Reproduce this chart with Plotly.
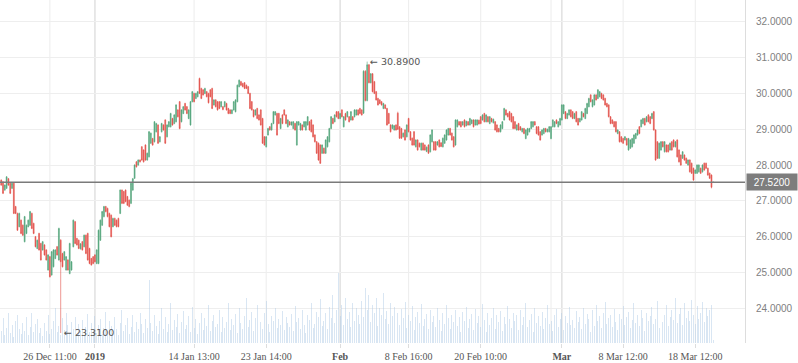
import plotly.graph_objects as go

opens = [
27.58, 27.53, 27.30, 27.35, 27.62, 27.49, 27.35, 27.49, 26.84,
26.65, 26.28, 26.46, 26.32, 25.86, 26.09, 26.28, 26.32, 26.65,
26.37, 26.00, 25.67, 26.09, 25.81, 25.63, 25.77, 25.63, 25.07,
25.44, 24.93, 25.16, 25.39, 25.72, 25.35, 25.90, 25.53, 25.35, 25.07,
25.35, 24.97, 25.07, 25.72, 26.42, 25.95, 25.90, 25.66, 25.86, 25.72, 26.04,
26.09, 25.67, 25.39, 25.44, 25.49, 25.25, 25.25, 25.90, 26.32, 26.56,
26.84, 26.79, 26.65, 26.60, 26.28, 26.51, 26.46, 26.51, 26.65, 27.30,
27.26, 27.30, 27.12, 27.02, 26.93, 27.30, 27.63, 28.09, 28.00, 28.14,
28.51, 28.42, 28.56, 28.14, 28.23, 28.61, 28.74, 28.65, 28.93, 29.12,
28.65, 28.93, 29.12, 29.26, 28.79, 29.07, 29.07, 29.30, 29.16,
29.21, 29.54, 29.77, 29.21, 29.44, 29.72, 29.63, 29.30, 29.12, 29.77,
30.00, 29.86, 29.91, 30.42, 30.14, 30.10, 30.00, 30.05, 30.00,
30.10, 30.14, 29.68, 29.82, 29.77, 29.77, 29.63, 29.63, 29.63, 29.72,
29.58, 29.54, 29.44, 29.54, 29.49, 29.77, 30.19, 30.33, 30.28, 30.30,
30.23, 30.19, 30.00, 29.77, 29.54, 29.40, 29.58, 29.40, 29.54, 29.30,
28.79, 28.51, 28.84, 29.07, 28.98, 29.16, 29.40, 29.44, 29.44, 29.02,
29.40, 29.54, 29.40, 29.07, 29.21, 29.12, 29.02, 29.16, 28.56, 29.12, 28.98,
29.12, 29.07, 28.98, 29.12, 29.21, 29.26, 29.12, 28.84, 28.65, 28.61,
28.56, 28.33, 28.47, 28.33, 28.51, 28.65, 29.02, 29.30, 29.21, 29.49,
29.49, 29.30, 29.54, 29.07, 29.44, 29.35, 29.35, 29.26, 29.35, 29.35,
29.40, 29.54, 29.58, 29.54, 29.45, 30.62, 29.80, 30.80, 30.30, 30.55,
30.33, 30.05, 29.86, 29.82, 29.77, 29.58, 29.68, 29.58, 29.44, 29.12,
29.02, 28.98, 29.12, 29.45, 29.07, 29.02, 28.79, 28.98, 28.79, 29.30,
28.93, 28.75, 28.93, 28.51, 28.70, 28.61, 28.42, 28.61, 28.56, 28.38,
28.56, 28.37, 28.65, 28.65, 28.65, 28.56, 28.70, 28.62, 28.51, 28.61,
28.70, 28.84, 29.02, 28.89, 28.79, 28.56, 29.07, 29.21, 29.21, 29.12,
29.26, 29.10, 29.21, 29.12, 29.16, 29.26, 29.12, 29.12, 29.25, 29.35,
29.26, 29.44, 29.21, 29.35, 29.16, 29.30, 29.18, 29.21, 29.12, 29.02,
28.93, 29.02, 29.26, 29.54, 29.44, 29.49, 29.44, 29.35, 29.21, 28.98,
29.16, 29.07, 28.93, 29.02, 28.74, 28.84, 28.93, 29.02, 29.07, 29.21,
29.07, 29.07, 28.93, 28.84, 28.88, 29.02, 28.93, 28.93, 28.74, 29.07, 29.07,
29.26, 29.07, 29.12, 29.26, 29.44, 29.49, 29.30, 29.40, 29.54, 29.49,
29.30, 29.49, 29.30, 29.21, 29.26, 29.44, 29.30, 29.44, 29.63, 29.96,
29.63, 29.68, 29.96, 29.86, 29.91, 30.00, 29.96, 29.86, 29.72, 29.68,
29.35, 29.26, 29.21, 29.21, 28.88, 28.93, 28.79, 28.74, 28.70, 28.74,
28.42, 28.47, 28.51, 28.61, 28.74, 28.84, 29.07, 29.07, 29.16, 29.30,
29.21, 29.40, 29.35, 29.30, 29.49, 28.98, 28.65, 28.19, 28.42, 28.65,
28.37, 28.56, 28.56, 28.42, 28.65, 28.70, 28.51, 28.70, 28.42, 28.28,
28.19, 28.28, 28.19, 28.00, 28.14, 28.05, 27.91, 27.77, 27.77, 27.81,
27.91, 27.81, 28.05, 28.05, 27.91, 27.77, 27.72, 27.52]

closes = [
27.44, 27.21, 27.44, 27.67, 27.44, 27.21, 27.49, 26.65, 26.65,
26.18, 26.65, 26.09, 26.04, 26.56, 26.32, 26.46, 26.70, 26.23,
26.09, 25.72, 25.90, 25.63, 25.35, 25.86, 25.49, 25.35, 25.49,
24.88, 25.58, 25.63, 25.63, 25.49, 26.23, 25.30, 25.16, 25.58, 25.44,
25.07, 25.81, 25.30, 26.46, 25.81, 25.77, 25.67, 25.80, 25.63, 26.04, 25.53,
25.35, 25.25, 25.21, 25.25, 25.30, 25.63, 26.18, 26.46, 26.70, 26.84,
26.70, 26.56, 26.28, 26.00, 26.51, 26.32, 26.28, 26.28, 27.30, 26.93,
26.93, 26.98, 26.88, 26.84, 27.49, 27.62, 28.00, 27.95, 28.14, 28.09,
28.14, 28.09, 28.14, 28.33, 28.93, 28.89, 28.56, 29.21, 29.16, 28.61,
28.79, 29.16, 28.98, 28.61, 29.12, 29.21, 29.44, 29.12, 29.40,
29.68, 29.35, 29.02, 29.54, 29.63, 29.54, 29.44, 29.54, 29.77, 30.05,
29.77, 30.00, 30.05, 30.00, 29.86, 29.96, 30.14, 29.91, 29.74,
29.91, 29.58, 29.82, 29.63, 29.54, 29.58, 29.77, 29.55, 29.77, 29.54,
29.44, 29.44, 29.54, 29.77, 29.82, 30.23, 30.37, 30.23, 30.19, 30.14,
30.14, 30.00, 29.58, 29.54, 29.35, 29.54, 29.30, 29.26, 29.12, 28.61,
28.56, 28.79, 29.02, 28.98, 29.16, 29.49, 29.49, 28.84, 29.16, 29.30,
29.16, 29.40, 29.16, 29.26, 29.12, 29.20, 29.21, 28.98, 29.21, 29.21, 29.16,
28.98, 29.21, 29.21, 29.35, 28.98, 28.93, 28.79, 28.65, 28.33, 28.14,
28.05, 28.56, 28.33, 28.70, 28.79, 29.02, 29.35, 29.16, 29.40, 29.35,
29.30, 29.44, 29.35, 29.35, 29.26, 29.49, 29.21, 29.49, 29.26, 29.54,
29.54, 29.40, 29.44, 29.40, 30.62, 29.80, 30.80, 30.30, 30.55, 30.05,
30.00, 29.82, 29.68, 29.72, 29.68, 29.72, 29.58, 29.12, 29.16, 28.93,
29.12, 29.10, 28.98, 29.00, 28.75, 28.75, 28.89, 28.70, 29.12, 28.93,
28.70, 28.56, 28.56, 28.70, 28.42, 28.51, 28.61, 28.42, 28.42, 28.50,
28.33, 28.84, 28.98, 28.42, 28.42, 28.65, 28.51, 28.52, 28.75, 28.84,
28.98, 29.02, 28.84, 28.70, 28.51, 29.26, 29.26, 29.12, 29.07, 29.21,
29.07, 29.22, 29.12, 29.30, 29.26, 29.07, 29.26, 29.26, 29.15, 29.16,
29.40, 29.21, 29.40, 29.21, 29.35, 29.21, 29.28, 28.98, 28.93, 28.93,
29.12, 29.21, 29.58, 29.40, 29.35, 29.26, 29.21, 29.02, 29.02, 29.12,
28.98, 28.98, 29.02, 28.88, 28.98, 29.02, 29.02, 29.21, 29.21, 29.12,
28.88, 28.84, 28.70, 28.98, 29.02, 28.93, 29.00, 29.07, 29.07, 29.26, 29.21,
29.16, 29.21, 29.30, 29.68, 29.68, 29.30, 29.44, 29.54, 29.35, 29.30,
29.44, 29.21, 29.12, 29.30, 29.49, 29.35, 29.58, 29.72, 29.86, 29.77,
29.82, 29.96, 29.82, 30.10, 30.05, 29.86, 29.82, 29.68, 29.63, 29.35,
29.16, 29.16, 29.07, 28.93, 28.98, 28.65, 28.65, 28.61, 28.79, 28.56,
28.74, 28.70, 28.74, 28.84, 28.88, 28.98, 28.88, 29.26, 29.30, 29.12,
29.35, 29.21, 29.16, 29.44, 28.98, 28.14, 28.19, 28.61, 28.65, 28.51,
28.65, 28.37, 28.37, 28.61, 28.42, 28.51, 28.65, 28.23, 28.09, 28.00,
28.37, 28.14, 28.05, 28.14, 27.81, 27.77, 27.58, 27.86, 28.00, 28.00,
27.77, 28.00, 27.86, 27.91, 27.72, 27.63, 27.38, 27.52]

highs = [
27.60, 27.55, 27.46, 27.69, 27.64, 27.51, 27.51, 27.51, 26.86,
26.67, 26.67, 26.48, 26.34, 26.58, 26.34, 26.48, 26.72, 26.67,
26.39, 26.02, 25.92, 26.11, 25.83, 25.88, 25.79, 25.65, 25.51,
25.46, 25.60, 25.65, 25.65, 25.74, 26.25, 25.93, 25.55, 25.60, 25.46,
25.37, 25.83, 25.32, 26.48, 26.44, 25.97, 25.92, 25.82, 25.88, 26.06, 26.06,
26.11, 25.69, 25.41, 25.46, 25.51, 25.65, 26.20, 26.48, 26.72, 26.86,
26.86, 26.81, 26.67, 26.62, 26.53, 26.53, 26.48, 26.53, 27.32, 27.32,
27.28, 27.32, 27.14, 27.04, 27.51, 27.64, 28.02, 28.11, 28.16, 28.16,
28.53, 28.44, 28.58, 28.35, 28.95, 28.91, 28.76, 29.23, 29.18, 29.14,
28.81, 29.18, 29.14, 29.28, 29.14, 29.23, 29.46, 29.32, 29.42,
29.70, 29.56, 29.79, 29.56, 29.65, 29.74, 29.65, 29.56, 29.79, 30.07,
30.02, 30.02, 30.07, 30.44, 30.16, 30.12, 30.16, 30.07, 30.02,
30.12, 30.16, 29.84, 29.84, 29.79, 29.79, 29.79, 29.65, 29.79, 29.74,
29.60, 29.56, 29.56, 29.79, 29.84, 30.25, 30.39, 30.35, 30.30, 30.32,
30.25, 30.21, 30.02, 29.79, 29.56, 29.56, 29.60, 29.42, 29.56, 29.32,
28.81, 28.81, 29.04, 29.09, 29.18, 29.51, 29.51, 29.46, 29.46, 29.32,
29.42, 29.56, 29.42, 29.28, 29.23, 29.22, 29.23, 29.18, 29.23, 29.23, 29.18,
29.14, 29.23, 29.23, 29.37, 29.23, 29.28, 29.14, 28.86, 28.67, 28.63,
28.58, 28.58, 28.49, 28.72, 28.81, 29.04, 29.37, 29.32, 29.42, 29.51,
29.51, 29.46, 29.56, 29.37, 29.46, 29.51, 29.37, 29.51, 29.37, 29.56,
29.56, 29.56, 29.60, 29.56, 30.65, 30.65, 30.89, 30.82, 30.57, 30.57,
30.35, 30.07, 29.88, 29.84, 29.79, 29.74, 29.70, 29.60, 29.46, 29.14,
29.14, 29.12, 29.14, 29.49, 29.09, 29.04, 28.91, 29.00, 29.14, 29.32,
28.95, 28.77, 28.95, 28.72, 28.72, 28.63, 28.63, 28.63, 28.58, 28.52,
28.58, 28.86, 29.00, 28.67, 28.67, 28.67, 28.72, 28.64, 28.77, 28.86,
29.00, 29.04, 29.04, 28.91, 28.81, 29.28, 29.28, 29.23, 29.23, 29.23,
29.28, 29.24, 29.23, 29.32, 29.28, 29.28, 29.28, 29.28, 29.27, 29.37,
29.42, 29.46, 29.42, 29.37, 29.37, 29.32, 29.30, 29.23, 29.14, 29.04,
29.14, 29.23, 29.60, 29.56, 29.46, 29.51, 29.46, 29.37, 29.23, 29.14,
29.18, 29.09, 29.04, 29.04, 29.00, 29.04, 29.04, 29.23, 29.23, 29.23,
29.09, 29.09, 28.95, 29.00, 29.04, 29.04, 29.02, 29.09, 29.09, 29.28, 29.23,
29.28, 29.23, 29.32, 29.70, 29.70, 29.51, 29.46, 29.56, 29.56, 29.51,
29.46, 29.51, 29.32, 29.32, 29.51, 29.46, 29.60, 29.74, 29.88, 29.98,
29.84, 29.98, 29.98, 30.12, 30.07, 30.02, 29.98, 29.88, 29.74, 29.70,
29.37, 29.28, 29.23, 29.23, 29.00, 28.95, 28.81, 28.76, 28.81, 28.76,
28.76, 28.72, 28.76, 28.86, 28.90, 29.00, 29.09, 29.28, 29.32, 29.32,
29.37, 29.42, 29.37, 29.46, 29.51, 29.00, 28.67, 28.63, 28.67, 28.67,
28.67, 28.58, 28.58, 28.63, 28.67, 28.72, 28.67, 28.72, 28.44, 28.30,
28.39, 28.30, 28.21, 28.16, 28.16, 28.07, 27.93, 27.88, 28.02, 28.02,
27.93, 28.02, 28.07, 28.07, 27.93, 27.79, 27.74, 27.53]

lows = [
27.42, 27.19, 27.28, 27.33, 27.42, 27.19, 27.33, 26.63, 26.63,
26.16, 26.26, 26.07, 26.02, 25.84, 26.07, 26.26, 26.30, 26.21,
26.07, 25.70, 25.65, 25.61, 25.33, 25.61, 25.47, 25.33, 25.05,
24.86, 24.91, 25.14, 25.37, 25.47, 25.33, 23.31, 25.14, 25.33, 25.05,
25.05, 24.95, 25.05, 25.70, 25.79, 25.75, 25.65, 25.64, 25.61, 25.70, 25.51,
25.33, 25.23, 25.19, 25.23, 25.28, 25.23, 25.23, 25.88, 26.30, 26.54,
26.68, 26.54, 26.26, 25.98, 26.26, 26.30, 26.26, 26.26, 26.63, 26.91,
26.91, 26.96, 26.86, 26.82, 26.91, 27.28, 27.61, 27.93, 27.98, 28.07,
28.12, 28.07, 28.12, 28.12, 28.21, 28.59, 28.54, 28.63, 28.91, 28.59,
28.63, 28.91, 28.96, 28.59, 28.77, 29.05, 29.05, 29.10, 29.14,
29.19, 29.33, 29.00, 29.19, 29.42, 29.52, 29.42, 29.28, 29.10, 29.75,
29.75, 29.84, 29.89, 29.98, 29.84, 29.94, 29.98, 29.89, 29.72,
29.89, 29.56, 29.66, 29.61, 29.52, 29.56, 29.61, 29.53, 29.61, 29.52,
29.42, 29.42, 29.42, 29.52, 29.47, 29.75, 30.17, 30.21, 30.17, 30.12,
30.12, 29.98, 29.56, 29.52, 29.33, 29.38, 29.28, 29.24, 29.10, 28.59,
28.54, 28.49, 28.82, 28.96, 28.96, 29.14, 29.38, 28.82, 29.14, 29.00,
29.14, 29.38, 29.14, 29.05, 29.10, 29.10, 29.00, 28.96, 28.54, 29.10, 28.96,
28.96, 29.05, 28.96, 29.10, 28.96, 28.91, 28.77, 28.63, 28.31, 28.12,
28.03, 28.31, 28.31, 28.31, 28.49, 28.63, 29.00, 29.14, 29.19, 29.33,
29.28, 29.28, 29.33, 29.05, 29.24, 29.33, 29.19, 29.24, 29.24, 29.33,
29.38, 29.38, 29.42, 29.38, 29.43, 29.78, 29.78, 30.28, 30.28, 30.03,
29.98, 29.80, 29.66, 29.70, 29.66, 29.56, 29.56, 29.10, 29.14, 28.91,
29.00, 28.96, 28.96, 28.98, 28.73, 28.73, 28.77, 28.68, 28.77, 28.91,
28.68, 28.54, 28.54, 28.49, 28.40, 28.49, 28.40, 28.40, 28.40, 28.36,
28.31, 28.35, 28.63, 28.40, 28.40, 28.54, 28.49, 28.50, 28.49, 28.59,
28.68, 28.82, 28.82, 28.68, 28.49, 28.54, 29.05, 29.10, 29.05, 29.10,
29.05, 29.08, 29.10, 29.10, 29.14, 29.05, 29.10, 29.10, 29.13, 29.14,
29.24, 29.19, 29.19, 29.19, 29.14, 29.19, 29.16, 28.96, 28.91, 28.91,
28.91, 29.00, 29.24, 29.38, 29.33, 29.24, 29.19, 29.00, 29.00, 28.96,
28.96, 28.96, 28.91, 28.86, 28.72, 28.82, 28.91, 29.00, 29.05, 29.10,
28.86, 28.82, 28.68, 28.82, 28.86, 28.91, 28.91, 28.91, 28.72, 29.05, 29.05,
29.14, 29.05, 29.10, 29.24, 29.42, 29.28, 29.28, 29.38, 29.33, 29.28,
29.28, 29.19, 29.10, 29.19, 29.24, 29.33, 29.28, 29.42, 29.61, 29.75,
29.61, 29.66, 29.80, 29.84, 29.89, 29.84, 29.80, 29.66, 29.61, 29.33,
29.14, 29.14, 29.05, 28.91, 28.86, 28.63, 28.63, 28.59, 28.68, 28.54,
28.40, 28.45, 28.49, 28.59, 28.72, 28.82, 28.86, 29.05, 29.14, 29.10,
29.19, 29.19, 29.14, 29.28, 28.96, 28.12, 28.17, 28.17, 28.40, 28.49,
28.35, 28.35, 28.35, 28.40, 28.40, 28.49, 28.49, 28.21, 28.07, 27.98,
28.17, 28.12, 28.03, 27.98, 27.79, 27.75, 27.56, 27.75, 27.75, 27.79,
27.75, 27.79, 27.84, 27.89, 27.70, 27.61, 27.35, 27.51]

volumes = [
12, 25, 8, 15, 30, 10, 18, 6, 22, 28, 14, 9, 20, 12, 26, 8, 16, 30, 11, 19,
24, 10, 15, 7, 20, 12, 28, 9, 14, 22, 35, 11, 17, 8, 25, 13, 30, 18, 10, 21,
14, 26, 9, 19, 12, 23, 8, 16, 29, 11, 20, 13, 27, 10, 18, 24, 9, 15, 31, 12,
22, 17, 10, 26, 14, 8, 20, 33, 12, 18, 25, 9, 16, 28, 11, 21, 14, 30, 19, 10,
24, 15, 63, 20, 12, 28, 17, 9, 22, 35, 14, 26, 11, 19, 40, 13, 23, 16, 29, 10,
21, 32, 14, 18, 27, 11, 36, 15, 24, 9, 20, 30, 13, 25, 17, 38, 12, 22, 28, 16,
19, 33, 11, 26, 15, 21, 40, 13, 24, 18, 29, 10, 35, 20, 14, 27, 45, 16, 23, 31,
12, 25, 38, 17, 21, 14, 30, 42, 19, 11, 27, 22, 35, 15, 24, 18, 32, 13, 26, 20,
16, 29, 12, 37, 21, 25, 14, 33, 18, 10, 28, 23, 40, 15, 19, 31, 26, 44, 17, 22,
30, 14, 36, 25, 48, 20, 33, 70, 27, 38, 18, 45, 24, 31, 16, 40, 22, 35, 28, 19,
42, 26, 55, 33, 48, 21, 38, 30, 45, 17, 35, 28, 50, 24, 32, 19, 40, 27, 36, 22,
30, 18, 34, 25, 41, 15, 28, 22, 37, 13, 26, 31, 20, 39, 17, 24, 29, 14, 33, 21,
27, 16, 35, 23, 12, 30, 19, 38, 25, 14, 28, 21, 33, 17, 26, 11, 31, 22, 36, 15,
24, 29, 13, 34, 20, 27, 16, 39, 23, 11, 30, 18, 25, 35, 14, 28, 21, 32, 12, 26,
19, 37, 24, 15, 30, 22, 28, 13, 33, 18, 26, 40, 16, 23, 29, 11, 35, 20, 27, 17,
31, 14, 25, 38, 19, 22, 12, 28, 34, 16, 24, 30, 13, 27, 20, 36, 18, 23, 15, 32,
21, 26, 14, 35, 19, 29, 24, 11, 33, 17, 38, 22, 27, 15, 30, 41, 19, 25, 28, 16,
34, 21, 13, 29, 24, 37, 18, 26, 31, 15, 23, 40, 20, 28, 17, 33, 25, 12, 30, 22,
27, 36, 19, 24, 42, 15, 31, 21, 28, 38, 17, 26, 33, 23, 45, 20, 29, 35, 18, 40,
25, 32, 22, 43, 28, 19, 37, 24, 30, 41, 21, 35, 27, 33, 38, 3]

tick_idx = [27, 52, 107, 147, 188, 226, 266, 311, 345, 385]
tick_text = ["26 Dec 11:00", "<b>2019</b>", "14 Jan 13:00", "23 Jan 14:00", "<b>Feb</b>",
             "8 Feb 16:00", "20 Feb 10:00", "<b>Mar</b>", "8 Mar 12:00", "18 Mar 12:00"]
major_idx = [52, 188, 311]
extra_grid_idx = [305]
y_ticks = [24, 25, 26, 27, 28, 29, 30, 31, 32]
last_price = 27.52
high_price = 30.89
low_price = 23.31

n = len(closes)
assert len(opens) == n and len(highs) == n and len(lows) == n, (len(opens), n, len(highs), len(lows))
idx = list(range(n))
vols = volumes[:n] + [0] * max(0, n - len(volumes))

fig = go.Figure()
fig.add_trace(go.Bar(x=idx, y=vols, yaxis="y2", width=0.55,
                     marker=dict(color="rgba(170,200,228,0.45)", line=dict(width=0)),
                     hoverinfo="skip", showlegend=False))
fig.add_trace(go.Candlestick(
    x=idx, open=opens, high=highs, low=lows, close=closes,
    increasing=dict(line=dict(color="#52a57b", width=0.6), fillcolor="#52a57b"),
    decreasing=dict(line=dict(color="#e2504a", width=0.6), fillcolor="#e2504a"),
    whiskerwidth=0, showlegend=False))

shapes = []
for t in tick_idx + extra_grid_idx:
    col = "#dcdcdc" if t in major_idx else "#ececec"
    shapes.append(dict(type="line", xref="x", yref="paper", x0=t, x1=t, y0=0, y1=1,
                       line=dict(color=col, width=1.3 if t in major_idx else 1), layer="below"))
shapes.append(dict(type="line", xref="paper", yref="y", x0=0, x1=1, y0=last_price, y1=last_price,
                   line=dict(color="#7a7a7a", width=1.5), layer="above"))

hi_i = highs.index(high_price)
lo_i = lows.index(low_price)
annotations = [
    dict(x=hi_i, y=high_price, xref="x", yref="y", text="\u2190 %.4f" % high_price,
         showarrow=False, xanchor="left", yanchor="middle", xshift=1,
         font=dict(family="DejaVu Sans", size=9.5, color="#555")),
    dict(x=lo_i, y=low_price, xref="x", yref="y", text="\u2190 %.4f" % low_price,
         showarrow=False, xanchor="left", yanchor="middle", xshift=1,
         font=dict(family="DejaVu Sans", size=9.5, color="#555")),
    dict(x=1, y=last_price, xref="paper", yref="y", text="%.4f" % last_price,
         showarrow=False, xanchor="left", yanchor="middle", xshift=1,
         bgcolor="#7d7d7d", width=48, height=14, borderpad=1,
         font=dict(family="Liberation Sans", size=10, color="#ffffff")),
]

fig.update_layout(
    width=798, height=363,
    margin=dict(l=0, r=53, t=0, b=20),
    paper_bgcolor="white", plot_bgcolor="white",
    showlegend=False, bargap=0,
    shapes=shapes, annotations=annotations,
    xaxis=dict(range=[-0.67, 412.6], tickmode="array", tickvals=tick_idx, ticktext=tick_text,
               showgrid=False, zeroline=False, showline=False,
               ticks="outside", ticklen=4, tickcolor="#dddddd",
               tickfont=dict(family="Liberation Serif", size=10, color="#555"),
               rangeslider=dict(visible=False), fixedrange=True),
    yaxis=dict(side="right", range=[23.03, 32.61], tickmode="array", tickvals=y_ticks,
               ticktext=["%.4f" % v for v in y_ticks],
               showgrid=True, gridcolor="#eeeeee", zeroline=False,
               showline=True, linecolor="#dddddd", ticks="", ticklabelstandoff=8,
               tickfont=dict(family="Liberation Sans", size=10, color="#808080"),
               fixedrange=True),
    yaxis2=dict(overlaying="y", range=[0, 343], visible=False, fixedrange=True),
)

fig.write_html("out.html", config={"displayModeBar": False},
               post_script="document.body.style.margin='0';document.body.style.overflow='hidden';")
